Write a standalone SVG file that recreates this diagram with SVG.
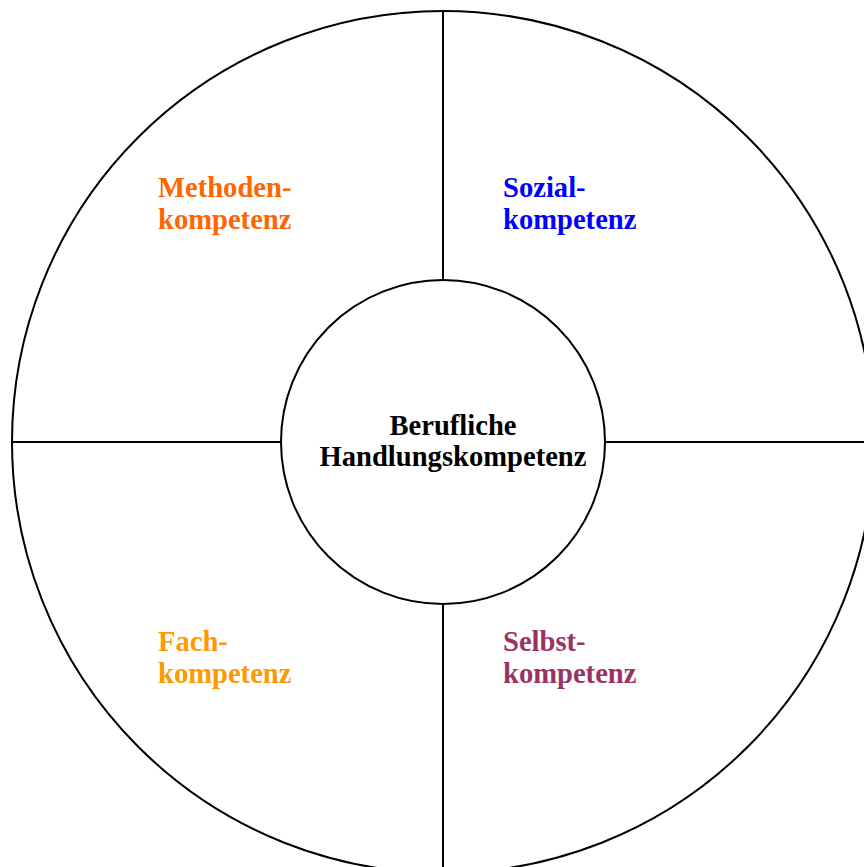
<svg xmlns="http://www.w3.org/2000/svg" width="864" height="867" viewBox="0 0 864 867">
<style>
.ln{stroke:#000;stroke-width:2;fill:none}
.t{font-family:"Liberation Serif","Times New Roman",serif;font-weight:bold;font-size:28.6px}
</style>
<rect width="864" height="867" fill="#fff"/>
<g id="connectors">
<line class="ln" x1="443" y1="11" x2="443" y2="280"/>
<line class="ln" x1="443" y1="604" x2="443" y2="873"/>
<line class="ln" x1="12" y1="442" x2="281" y2="442"/>
<line class="ln" x1="605" y1="442" x2="874" y2="442"/>
</g>
<g id="outer"><circle class="ln" cx="443" cy="442" r="431"/></g>
<g id="center">
<circle class="ln" cx="443" cy="442" r="162" fill="#fff"/>
<text class="t" text-anchor="middle" x="453" y="435">Berufliche</text>
<text class="t" text-anchor="middle" x="453" y="466">Handlungskompetenz</text>
</g>
<g id="methoden">
<text class="t" fill="#FF6600" x="158" y="197">Methoden-</text>
<text class="t" fill="#FF6600" x="158" y="229">kompetenz</text>
</g>
<g id="sozial">
<text class="t" fill="#0000FF" x="503" y="197">Sozial-</text>
<text class="t" fill="#0000FF" x="503" y="229">kompetenz</text>
</g>
<g id="fach">
<text class="t" fill="#FF9900" x="158" y="651">Fach-</text>
<text class="t" fill="#FF9900" x="158" y="683">kompetenz</text>
</g>
<g id="selbst">
<text class="t" fill="#993366" x="503" y="651">Selbst-</text>
<text class="t" fill="#993366" x="503" y="683">kompetenz</text>
</g>
</svg>
